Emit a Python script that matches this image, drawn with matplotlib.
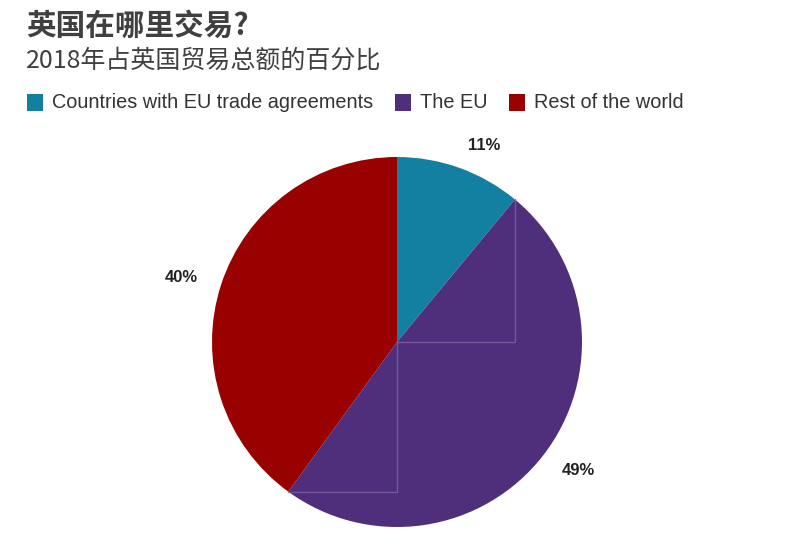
import matplotlib
matplotlib.use("Agg")
import matplotlib.pyplot as plt
import numpy as np
from matplotlib.patches import Rectangle

# data
labels = ["Countries with EU trade agreements", "The EU", "Rest of the world"]
shares = [11, 49, 40]
colors = ["#1380a1", "#4f2e7b", "#990000"]
title = "英国在哪里交易?"
subtitle = "2018年占英国贸易总额的百分比"

W, H = 785, 544
fig = plt.figure(figsize=(W / 100, H / 100), dpi=100)
fonts = ["Liberation Sans", "Noto Sans CJK SC", "DejaVu Sans"]
cjk = ["Noto Sans CJK SC", "DejaVu Sans"]

def fx(px):
    return px / W

def fy(py):
    return 1 - py / H

# titles
fig.text(fx(26), fy(26), title, family=cjk, fontsize=21.3, fontweight="bold",
         color="#404040", va="center", ha="left")
fig.text(fx(26), fy(61), subtitle, family=cjk, fontsize=18,
         color="#404040", va="center", ha="left")

# legend
leg_x = [27, 395, 509]
for x, lab, c in zip(leg_x, labels, colors):
    fig.patches.append(Rectangle((fx(x), fy(111)), 16 / W, 17 / H, transform=fig.transFigure,
                                 facecolor=c, edgecolor="none"))
    fig.text(fx(x + 25), fy(103), lab, family=fonts, fontsize=14.3, color="#333333",
             va="center", ha="left")

# pie
cx, cy, r = 397, 342, 185
ax = fig.add_axes([fx(cx - r), fy(cy + r), 2 * r / W, 2 * r / H])
wedges, texts = ax.pie(shares, colors=colors, startangle=90, counterclock=False,
                       labels=[f"{s}%" for s in shares], labeldistance=1.13,
                       wedgeprops=dict(linewidth=0),
                       textprops=dict(fontsize=12, fontweight="bold", color="#222222",
                                      family=fonts))
for t in texts:
    t.set_va("center")
ax.set_xlim(-1, 1)
ax.set_ylim(-1, 1)
ax.axis("off")

# faint outlines visible on the purple slice in the original
ang = 90 - np.cumsum([0] + shares) / 100 * 360
a1, a2 = np.radians(ang[1]), np.radians(ang[2])
p1 = (np.cos(a1), np.sin(a1))
p2 = (np.cos(a2), np.sin(a2))
lc = "#7a65a3"
ax.plot([0, p1[0], p1[0]], [0, 0, p1[1]], color=lc, lw=1, alpha=0.8)
ax.plot([0, 0, p2[0]], [0, p2[1], p2[1]], color=lc, lw=1, alpha=0.8)

fig.savefig("out.png", dpi=100)
